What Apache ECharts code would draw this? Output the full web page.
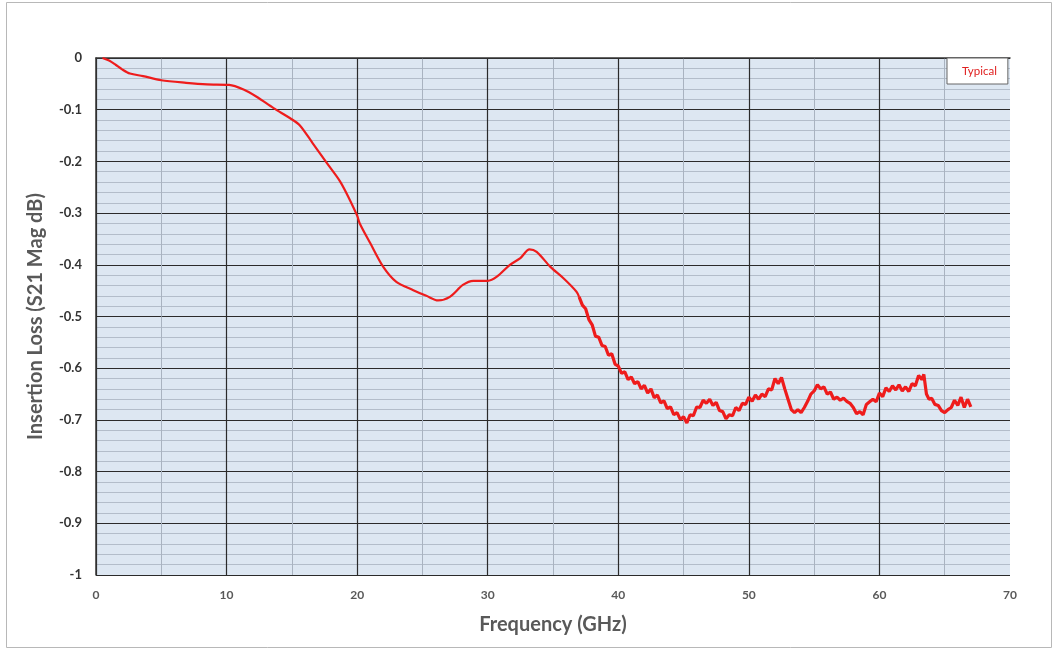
<!DOCTYPE html>
<html>
<head>
<meta charset="utf-8">
<script src="https://cdn.jsdelivr.net/npm/echarts@6/dist/echarts.min.js"></script>
<style>html,body{margin:0;padding:0;background:#fff}#c{width:1058px;height:651px}</style>
</head>
<body>
<div id="c"></div>
<script>
// Smooth section (GHz, dB)
const freqSmooth = [0.5,1.0,1.5,2.0,2.6,3.6,5.0,6.9,8.5,10.2,11.3,12.3,13.6,14.9,15.6,16.6,17.7,18.7,19.45,20.0,20.2,21.0,22.0,23.0,24.3,25.3,26.2,27.1,28.1,28.9,30.0,30.7,31.7,32.5,33.2,33.75,34.8,35.8,36.8,37.0];
const lossSmooth = [0,-0.005,-0.013,-0.022,-0.030,-0.035,-0.043,-0.048,-0.051,-0.052,-0.061,-0.075,-0.097,-0.117,-0.130,-0.165,-0.204,-0.239,-0.275,-0.305,-0.32,-0.358,-0.404,-0.433,-0.449,-0.46,-0.469,-0.462,-0.439,-0.431,-0.431,-0.423,-0.40,-0.387,-0.37,-0.375,-0.404,-0.426,-0.452,-0.462];
// Noisy section (GHz, dB)
const freqNoisy = [37.0,37.25,37.5,37.75,38.0,38.25,38.5,38.75,39.0,39.25,39.5,39.75,40.0,40.25,40.5,40.75,41.0,41.25,41.5,41.75,42.0,42.25,42.5,42.75,43.0,43.25,43.5,43.75,44.0,44.25,44.5,44.75,45.0,45.25,45.5,45.75,46.0,46.25,46.5,46.75,47.0,47.25,47.5,47.75,48.0,48.25,48.5,48.75,49.0,49.25,49.5,49.75,50.0,50.25,50.5,50.75,51.0,51.25,51.5,51.75,52.0,52.25,52.5,52.75,53.0,53.25,53.5,53.75,54.0,54.25,54.5,54.75,55.0,55.25,55.5,55.75,56.0,56.25,56.5,56.75,57.0,57.25,57.5,57.75,58.0,58.25,58.5,58.75,59.0,59.25,59.5,59.75,60.0,60.25,60.5,60.75,61.0,61.25,61.5,61.75,62.0,62.25,62.5,62.75,63.0,63.25,63.4,63.6,63.8,64.0,64.25,64.5,64.75,65.0,65.25,65.5,65.75,66.0,66.25,66.5,66.75,67.0];
const lossNoisy = [-0.462,-0.478,-0.485,-0.506,-0.516,-0.538,-0.540,-0.556,-0.558,-0.575,-0.572,-0.592,-0.596,-0.610,-0.607,-0.622,-0.617,-0.630,-0.626,-0.640,-0.633,-0.648,-0.640,-0.657,-0.652,-0.667,-0.663,-0.678,-0.675,-0.690,-0.686,-0.699,-0.694,-0.706,-0.690,-0.692,-0.675,-0.676,-0.662,-0.668,-0.660,-0.672,-0.666,-0.682,-0.684,-0.698,-0.690,-0.692,-0.676,-0.682,-0.668,-0.670,-0.656,-0.664,-0.652,-0.660,-0.650,-0.655,-0.640,-0.642,-0.620,-0.630,-0.618,-0.640,-0.660,-0.680,-0.686,-0.680,-0.686,-0.676,-0.664,-0.650,-0.644,-0.632,-0.640,-0.636,-0.650,-0.646,-0.660,-0.656,-0.662,-0.658,-0.664,-0.668,-0.676,-0.688,-0.684,-0.690,-0.670,-0.665,-0.660,-0.665,-0.648,-0.655,-0.638,-0.645,-0.634,-0.642,-0.632,-0.644,-0.636,-0.645,-0.630,-0.634,-0.614,-0.622,-0.612,-0.650,-0.660,-0.658,-0.670,-0.672,-0.682,-0.686,-0.680,-0.676,-0.662,-0.672,-0.656,-0.676,-0.660,-0.675];
const seriesName = 'Typical';
const xTitle = 'Frequency (GHz)';
const yTitle = 'Insertion Loss (S21 Mag dB)';

const zip = (a, b) => a.map((v, i) => [v, b[i]]);
const chart = echarts.init(document.getElementById('c'));
const font = 'Lato, "Liberation Sans", sans-serif';
chart.setOption({
  animation: false,
  backgroundColor: '#fff',
  grid: { left: 96, top: 58, right: 48, bottom: 76, show: true, backgroundColor: '#dde7f2', borderWidth: 0 },
  legend: {
    data: [seriesName], left: 947, top: 58, icon: 'rect', itemWidth: 0, itemHeight: 0, itemGap: 0,
    padding: [7, 11, 7, 10], backgroundColor: '#fff', borderColor: '#666', borderWidth: 1,
    textStyle: { color: '#e02020', fontSize: 11.5, fontFamily: font }
  },
  xAxis: {
    type: 'value', min: 0, max: 70, interval: 10,
    name: xTitle, nameLocation: 'middle', nameGap: 40,
    nameTextStyle: { fontFamily: font, fontSize: 20, fontWeight: 'bold', color: '#595959' },
    axisLine: { show: true, lineStyle: { color: '#333', width: 1.5 } },
    axisTick: { show: false },
    axisLabel: { fontFamily: font, fontSize: 12, fontWeight: 'bold', color: '#595959', margin: 14 },
    splitLine: { show: true, showMaxLine: false, lineStyle: { color: '#2b2b2b', width: 1.2 } },
    minorTick: { show: false, splitNumber: 2 },
    minorSplitLine: { show: true, lineStyle: { color: '#a9b3c0', width: 1 } }
  },
  yAxis: {
    type: 'value', min: -1, max: 0, interval: 0.1,
    name: yTitle, nameLocation: 'middle', nameGap: 50, nameRotate: 90,
    nameTextStyle: { fontFamily: font, fontSize: 20, fontWeight: 'bold', color: '#595959' },
    axisLine: { show: true, lineStyle: { color: '#333', width: 1.5 } },
    axisTick: { show: false },
    axisLabel: { fontFamily: font, fontSize: 13, fontWeight: 'bold', color: '#333', margin: 14 },
    splitLine: { show: true, lineStyle: { color: '#2b2b2b', width: 1.2 } },
    minorTick: { show: false, splitNumber: 5 },
    minorSplitLine: { show: true, lineStyle: { color: '#b3bdca', width: 1 } }
  },
  graphic: [{
    type: 'rect', shape: { x: 6.5, y: 2.5, width: 1045, height: 645 },
    style: { fill: 'none', stroke: '#b8b8b8', lineWidth: 1 }, silent: true, z: -1
  }],
  series: [
    { name: seriesName, type: 'line', data: zip(freqSmooth, lossSmooth), smooth: 0.3, showSymbol: false,
      lineStyle: { color: '#ee1c1c', width: 2.2 }, itemStyle: { color: '#ee1c1c' } },
    { name: seriesName, type: 'line', data: zip(freqNoisy, lossNoisy), showSymbol: false,
      lineStyle: { color: '#ee1c1c', width: 3.2 }, itemStyle: { color: '#ee1c1c' } }
  ]
});
</script>
</body>
</html>
